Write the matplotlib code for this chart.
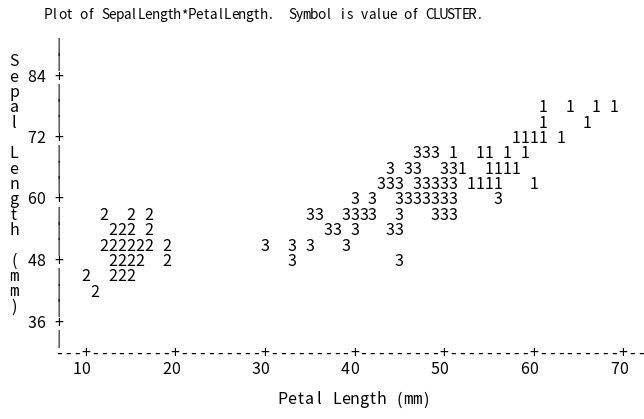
import matplotlib
matplotlib.use("Agg")
import matplotlib.pyplot as plt

FONT = ["Noto Sans CJK JP", "DejaVu Sans"]
NARROW_FONT = ["DejaVu Sans Mono"]
WIDE = set("mMwW")
FS = 11.5
TITLE_FS = 9.8

title = "Plot of SepalLength*PetalLength.  Symbol is value of CLUSTER."
x_label = "Petal Length (mm)"
y_label = "Sepal Length (mm)"
x_ticks = [10, 20, 30, 40, 50, 60, 70]
y_ticks = [84, 72, 60, 48, 36]

# Cluster 1
c1_petal = [61, 64, 67, 69, 61, 66, 58, 59, 60, 61, 63, 51, 54, 55, 57, 59,
            52, 55, 56, 57, 58, 53, 54, 55, 56, 60]
c1_sepal = [78, 78, 78, 78, 75, 75, 72, 72, 72, 72, 72, 69, 69, 69, 69, 69,
            66, 66, 66, 66, 66, 63, 63, 63, 63, 63]

# Cluster 2
c2_petal = [12, 15, 17, 13, 14, 15, 17, 12, 13, 14, 15, 16, 17, 19,
            13, 14, 15, 16, 19, 10, 13, 14, 15, 11]
c2_sepal = [57, 57, 57, 54, 54, 54, 54, 51, 51, 51, 51, 51, 51, 51,
            48, 48, 48, 48, 48, 45, 45, 45, 45, 42]

# Cluster 3
c3_petal = [47, 48, 49,
            44, 46, 47, 50, 51,
            43, 44, 45, 47, 48, 49, 50, 51,
            40, 42, 45, 46, 47, 48, 49, 50, 51, 56,
            35, 36, 39, 40, 41, 42, 45, 49, 50, 51,
            37, 38, 40, 44, 45,
            30, 33, 35, 39,
            33, 45]
c3_sepal = [69, 69, 69,
            66, 66, 66, 66, 66,
            63, 63, 63, 63, 63, 63, 63, 63,
            60, 60, 60, 60, 60, 60, 60, 60, 60, 60,
            57, 57, 57, 57, 57, 57, 57, 57, 57, 57,
            54, 54, 54, 54, 54,
            51, 51, 51, 51,
            48, 48]

clusters = [("1", c1_petal, c1_sepal), ("2", c2_petal, c2_sepal), ("3", c3_petal, c3_sepal)]

# character-grid geometry (one column = 1 mm petal, one row = 3 mm sepal)
COL_PX = 8.96
ROW_PX = 15.375
X10_PX = 85.7
Y84_PX = 75.0
W, H = 644, 419

fig = plt.figure(figsize=(W / 100, H / 100), dpi=100)
ax = fig.add_axes([0, 0, 1, 1])
ax.set_xlim(10 - X10_PX / COL_PX, 10 + (W - X10_PX) / COL_PX)
ax.set_ylim(84 - (H - Y84_PX) / ROW_PX * 3, 84 + Y84_PX / ROW_PX * 3)
ax.axis("off")


def put(col, row, s, step=1.0, fs=FS):
    for i, ch in enumerate(s):
        if ch == " ":
            continue
        fam = NARROW_FONT if ch in WIDE else FONT
        ax.text(col + i * step, row, ch, ha="center", va="center_baseline",
                fontsize=fs, family=fam, color="black")


# y axis
for r in range(90, 32, -3):
    put(7, r, "+" if r in y_ticks else "|")
for t in y_ticks:
    put(4, t, str(t))
# vertical y label
for i, ch in enumerate(y_label):
    put(2, 87 - 3 * i, ch)

# x axis
for c in range(7, 74):
    put(c, 30, "+" if c in x_ticks else "-")
for t in x_ticks:
    put(t - 1, 27, str(t))
put(32, 21, x_label)

# title (narrower character pitch)
put(5.75, 96.0, title, step=7.2 / COL_PX, fs=TITLE_FS)

# data symbols
for sym, xs, ys in clusters:
    for x, y in zip(xs, ys):
        ax.text(x, y, sym, ha="center", va="center_baseline", fontsize=FS,
                family=FONT, color="black")

fig.savefig("out.png", dpi=100)
